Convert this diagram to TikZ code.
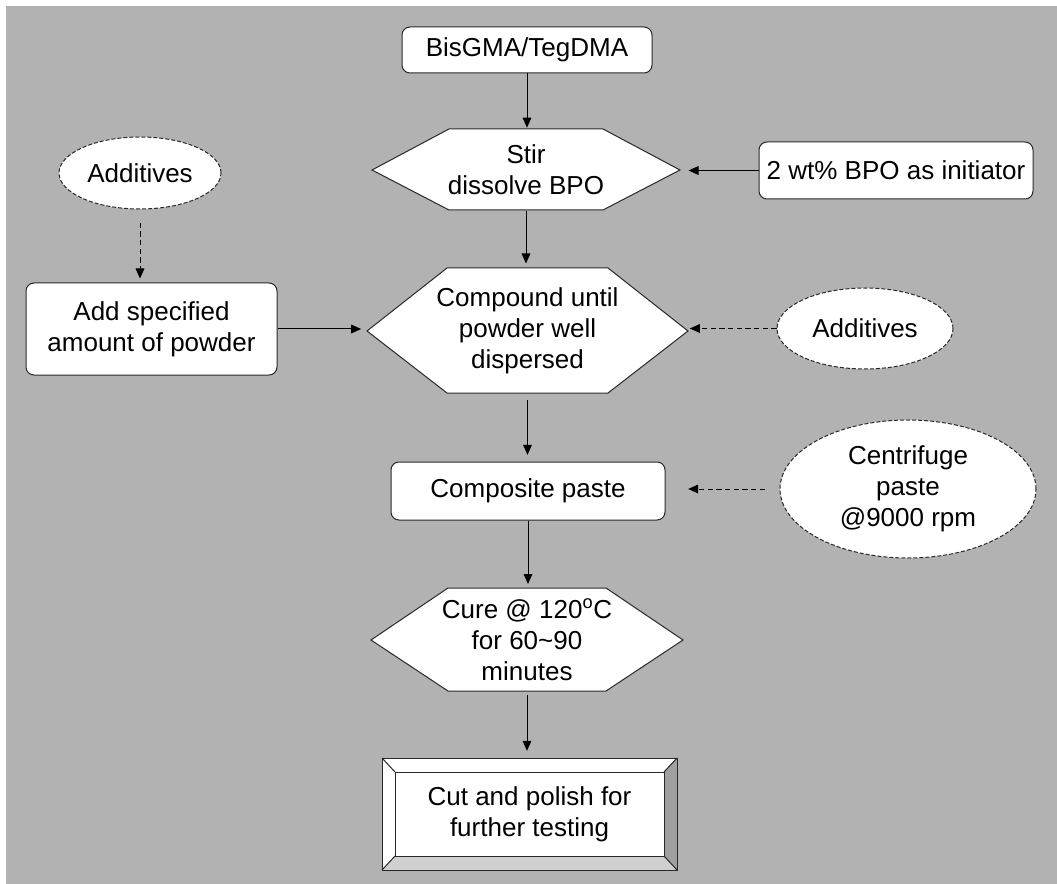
\documentclass[tikz,border=0pt]{standalone}
\usepackage{fontspec}
\setmainfont{Liberation Sans}
\usetikzlibrary{arrows.meta,shapes.geometric}

\definecolor{bggray}{RGB}{178,178,178}
\definecolor{bevelgray}{RGB}{160,160,160}
\definecolor{bevellight}{RGB}{208,208,208}
\definecolor{edgegray}{RGB}{40,40,40}

\tikzset{every picture/.style={line width=0.75pt}}
\tikzset{
  txt/.style={font=\fontsize{19.5pt}{23.4pt}\selectfont, align=center, inner sep=0.75pt},
  rbox/.style={txt, draw=edgegray, fill=white, rounded corners=6pt},
  addbox/.style={txt, ellipse, draw=edgegray, fill=white, dash pattern=on 3pt off 1.5pt},
  hexarea/.style={txt, rectangle},
  flow/.style={-{Triangle[length=7.5pt,width=6.5pt]}, shorten >=3pt},
  dflow/.style={flow, dash pattern=on 4pt off 2.5pt},
}

\begin{document}
\begin{tikzpicture}[x=0.75pt,y=0.75pt,yscale=-1,xscale=1]
\useasboundingbox (0,0) rectangle (1057,884);

%Shape: Background
\fill [bggray] (6,6) rectangle (1057,884);

%Shape: Hexagon [stir]
\draw [draw=edgegray, fill=white] (372,170) -- (449,129) -- (603,129) -- (680,170) -- (603,210) -- (449,210) -- cycle ;
%Shape: Hexagon [compound]
\draw [draw=edgegray, fill=white] (367,331) -- (447,268) -- (608,268) -- (688,331) -- (608,393) -- (447,393) -- cycle ;
%Shape: Hexagon [cure]
\draw [draw=edgegray, fill=white] (371,640) -- (448,588) -- (606,588) -- (683,640) -- (606,691) -- (448,691) -- cycle ;
%Shape: Bevel box [cut]
\fill [white] (382,758) rectangle (677,870);
\fill [bevelgray] (677,758) -- (664,772) -- (664,856) -- (677,870) -- cycle ;
\fill [bevellight] (382,870) -- (395,856) -- (664,856) -- (677,870) -- cycle ;
\draw [edgegray] (382,758) rectangle (677,870);
\draw [edgegray] (395,772) rectangle (664,856);
\draw [edgegray] (382,758) -- (395,772) (677,758) -- (664,772) (677,870) -- (664,856) (382,870) -- (395,856);

% Text Node
\draw (527,50) node [rbox, minimum width=187.5pt, minimum height=34.5pt] (bis) {BisGMA/TegDMA};
% Text Node
\draw (526,170) node [hexarea, minimum width=231pt, minimum height=60.75pt] (stir) {Stir\\dissolve BPO};
% Text Node
\draw (896,170.5) node [rbox, minimum width=205.5pt, minimum height=42.75pt] (bpo) {2 wt\% BPO as initiator};
% Text Node
\draw (140,173) node [addbox, minimum width=121.5pt, minimum height=54pt] (addl) {Additives};
% Text Node
\draw (151.5,329) node [rbox, minimum width=188.25pt, minimum height=69pt] (powder) {Add specified\\amount of powder};
% Text Node
\draw (527.5,330.5) node [hexarea, minimum width=240.75pt, minimum height=93.75pt] (compound) {Compound until\\powder well\\dispersed};
% Text Node
\draw (865,328.5) node [addbox, minimum width=132pt, minimum height=60.75pt] (addr) {Additives};
% Text Node
\draw (528,491) node [rbox, minimum width=205.5pt, minimum height=43.5pt] (paste) {Composite paste};
% Text Node
\draw (908,489) node [addbox, minimum width=192pt, minimum height=103.5pt] (centri) {Centrifuge\\paste\\@9000 rpm};
% Text Node
\draw (527,640) node [hexarea, minimum width=234pt, minimum height=77.25pt] (cure) {Cure @ 120\textsuperscript{o}C\\for 60\textasciitilde 90\\minutes};
% Text Node
\draw (529.5,814) node [hexarea, minimum width=221.25pt, minimum height=84pt] (cut) {Cut and polish for\\further testing};

%Straight Lines
\draw [flow, shorten >=1pt] (bis.south) -- (bis.south |- stir.north);
\draw [flow, shorten >=6pt] (bpo.west) -- (bpo.west -| stir.east);
\draw [dflow, shorten <=10pt] (addl.south) -- (addl.south |- powder.north);
\draw [flow, shorten >=4pt] (powder.east) -- (powder.east -| compound.west);
\draw [flow] (stir.south) -- (stir.south |- compound.north);
\draw [dflow, shorten >=1pt] (addr.west) -- (addr.west -| compound.east);
\draw [flow, shorten <=5pt, shorten >=5pt] (compound.south) -- (compound.south |- paste.north);
\draw [dflow, shorten <=11pt, shorten >=17pt] (centri.west) -- (centri.west -| paste.east);
\draw [flow] (paste.south) -- (paste.south |- cure.north);
\draw [flow, shorten <=2pt, shorten >=5pt] (cure.south) -- (cure.south |- cut.north);

\end{tikzpicture}
\end{document}
